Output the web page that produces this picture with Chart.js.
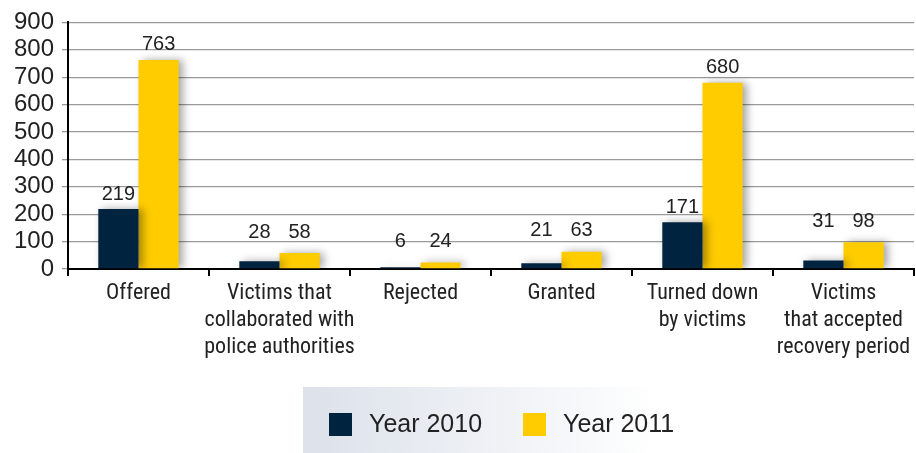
<!DOCTYPE html>
<html>

<head>
    <meta charset="utf-8">
    <script src="https://cdn.jsdelivr.net/npm/chart.js@4/dist/chart.umd.min.js"></script>
    <style>
        body { margin: 0; background: #fff; }
    </style>
</head>

<body>
    <div style="width: 916px; height: 453px;">
        <canvas id="wykres" width="916" height="453"></canvas>
    </div>
    <script>
        const kategorie = [
            ["Offered"],
            ["Victims that", "collaborated with", "police authorities"],
            ["Rejected"],
            ["Granted"],
            ["Turned down", "by victims"],
            ["Victims", "that accepted", "recovery period"]
        ];
        const rok2010 = [219, 28, 6, 21, 171, 31];
        const rok2011 = [763, 58, 24, 63, 680, 98];
        const osY = [0, 100, 200, 300, 400, 500, 600, 700, 800, 900];

        const granat = "#002340";
        const zolty = "#ffcc00";
        const czcionka = "'Liberation Sans Narrow', 'Roboto Condensed', Roboto, sans-serif";
        const czcionkaY = "'Liberation Sans', Arial, sans-serif";

        const dane = {
            labels: kategorie,
            datasets: [
                { label: "Year 2010", data: rok2010, backgroundColor: granat },
                { label: "Year 2011", data: rok2011, backgroundColor: zolty }
            ]
        };

        // cień słupków
        const cien = {
            id: "cien",
            beforeDatasetsDraw(chart) {
                const ctx = chart.ctx;
                ctx.save();
                ctx.shadowColor = "rgba(0,0,0,0.35)";
                ctx.shadowBlur = 8;
                ctx.shadowOffsetX = 4;
                ctx.shadowOffsetY = 0;
            },
            afterDatasetsDraw(chart) {
                chart.ctx.restore();
            }
        };

        // etykiety wartości nad słupkami
        const etykiety = {
            id: "etykiety",
            afterDatasetsDraw(chart) {
                const ctx = chart.ctx;
                const m0 = chart.getDatasetMeta(0).data;
                const m1 = chart.getDatasetMeta(1).data;
                ctx.save();
                ctx.font = "20px " + czcionkaY;
                ctx.fillStyle = "#222";
                ctx.textAlign = "center";
                ctx.textBaseline = "bottom";
                for (let j = 0; j < m0.length; j++) {
                    const a = m0[j], b = m1[j];
                    let ya = a.y, yb = b.y;
                    if (Math.abs(a.y - b.y) < 40) {
                        ya = yb = Math.min(a.y, b.y) - 6;
                    }
                    ctx.fillText(rok2010[j], a.x, ya - 5);
                    ctx.fillText(rok2011[j], b.x, yb - 5);
                }
                ctx.restore();
            }
        };

        // legenda w ramce z gradientem
        const legenda = {
            id: "legenda",
            afterDraw(chart) {
                const ctx = chart.ctx;
                const x0 = 303, y0 = 387, w = 357, h = 66;
                const g = ctx.createLinearGradient(x0, 0, x0 + w, 0);
                g.addColorStop(0, "#dce1ea");
                g.addColorStop(1, "#ffffff");
                ctx.save();
                ctx.fillStyle = g;
                ctx.fillRect(x0, y0, w, h);
                ctx.font = "25px " + czcionkaY;
                ctx.textBaseline = "middle";
                ctx.textAlign = "left";
                const pozycje = [329, 523];
                chart.data.datasets.forEach((ds, i) => {
                    ctx.fillStyle = ds.backgroundColor;
                    ctx.fillRect(pozycje[i], 413, 23, 23);
                    ctx.fillStyle = "#222";
                    ctx.fillText(ds.label, pozycje[i] + 40, 425);
                });
                ctx.restore();
            }
        };

        const ctx = document.getElementById("wykres").getContext("2d");
        const wykres = new Chart(ctx, {
            type: "bar",
            data: dane,
            plugins: [cien, etykiety, legenda],
            options: {
                responsive: false,
                animation: false,
                layout: { padding: { top: 12, right: 2, left: 0, bottom: 0 } },
                plugins: {
                    legend: { display: false },
                    tooltip: { enabled: false }
                },
                datasets: {
                    bar: { categoryPercentage: 0.57, barPercentage: 1.0 }
                },
                scales: {
                    x: {
                        offset: true,
                        grid: {
                            offset: true,
                            drawOnChartArea: false,
                            drawTicks: true,
                            tickLength: 7,
                            color: "#000",
                            lineWidth: 2
                        },
                        border: { display: true, color: "#000", width: 2 },
                        ticks: {
                            color: "#222",
                            font: { family: czcionka, size: 22, lineHeight: 1.22 },
                            padding: 4,
                            maxRotation: 0,
                            autoSkip: false
                        },
                        afterFit(scale) { scale.height = 184; }
                    },
                    y: {
                        min: 0,
                        max: 900,
                        afterBuildTicks(scale) {
                            scale.ticks = osY.map(v => ({ value: v }));
                        },
                        grid: {
                            color: "#9a9a9a",
                            lineWidth: 1.3,
                            tickLength: 6,
                            drawTicks: true
                        },
                        border: { display: true, color: "#000", width: 2 },
                        ticks: {
                            color: "#222",
                            font: { family: czcionkaY, size: 24 },
                            padding: 8,
                            autoSkip: false
                        },
                        afterFit(scale) { scale.width = 68; }
                    }
                }
            }
        });
    </script>
</body>

</html>
